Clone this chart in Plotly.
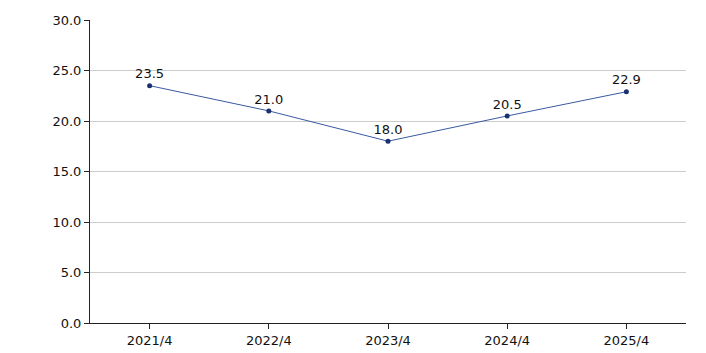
import plotly.graph_objects as go

categories = ["2021/4", "2022/4", "2023/4", "2024/4", "2025/4"]
values = [23.5, 21.0, 18.0, 20.5, 22.9]
labels = ["23.5", "21.0", "18.0", "20.5", "22.9"]
yticks = [0, 5, 10, 15, 20, 25, 30]

fig = go.Figure()
fig.add_trace(go.Scatter(
    x=list(range(len(categories))), y=values,
    mode="lines+markers+text",
    text=labels, textposition="top center",
    textfont=dict(family="DejaVu Sans", size=13, color="#111111"),
    line=dict(color="#3a5aa0", width=1),
    marker=dict(color="#1a3070", size=5),
    cliponaxis=False,
))
fig.update_layout(
    width=706, height=353,
    margin=dict(l=90, r=20, t=20, b=30),
    paper_bgcolor="white", plot_bgcolor="white",
    showlegend=False,
    font=dict(family="DejaVu Sans", size=13, color="#111111"),
    xaxis=dict(
        tickmode="array", tickvals=list(range(len(categories))), ticktext=categories,
        range=[-0.5, 4.5], showgrid=False, zeroline=False,
        showline=True, linecolor="#222222", linewidth=1,
        ticks="outside", ticklen=5, tickcolor="#222222",
        tickfont=dict(size=13), automargin=False,
    ),
    yaxis=dict(
        range=[0, 30], tickvals=yticks, ticktext=[f"{v:.1f}" for v in yticks],
        showgrid=True, gridcolor="#cccccc", gridwidth=1, zeroline=False,
        showline=True, linecolor="#222222", linewidth=1,
        ticks="outside", ticklen=5, tickcolor="#222222",
        tickfont=dict(size=13), automargin=False,
    ),
)
fig.write_html("out.html")
